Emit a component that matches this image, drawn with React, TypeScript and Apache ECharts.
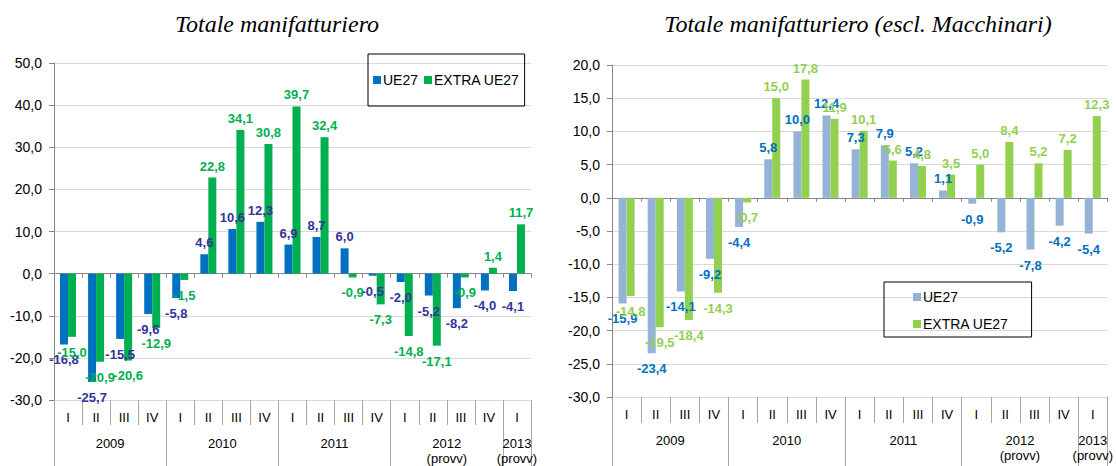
import React, { useEffect, useRef } from "react";
import * as echarts from "echarts";

const quarters = ["I", "II", "III", "IV", "I", "II", "III", "IV", "I", "II", "III", "IV", "I", "II", "III", "IV", "I"];
const years = ["2009", "2010", "2011", "2012\n(provv)", "2013\n(provv)"];
const quartersPerYear = [4, 4, 4, 4, 1];

const leftUE27 = [-16.8, -25.7, -15.5, -9.6, -5.8, 4.6, 10.6, 12.3, 6.9, 8.7, 6.0, -0.5, -2.0, -5.2, -8.2, -4.0, -4.1];
const leftExtra = [-15.0, -20.9, -20.6, -12.9, -1.5, 22.8, 34.1, 30.8, 39.7, 32.4, -0.9, -7.3, -14.8, -17.1, -0.9, 1.4, 11.7];
const rightUE27 = [-15.9, -23.4, -14.1, -9.2, -4.4, 5.8, 10.0, 12.4, 7.3, 7.9, 5.2, 1.1, -0.9, -5.2, -7.8, -4.2, -5.4];
const rightExtra = [-14.8, -19.5, -18.4, -14.3, -0.7, 15.0, 17.8, 11.9, 10.1, 5.6, 4.8, 3.5, 5.0, 8.4, 5.2, 7.2, 12.3];

const titles = ["Totale manifatturiero", "Totale manifatturiero (escl. Macchinari)"];
const seriesNames = ["UE27", "EXTRA UE27"];

const FONT = '"Liberation Sans", Arial, sans-serif';
const fmt = (v: number) => v.toFixed(1).replace(".", ",");

// year axis slots (half-quarter resolution)
const yearBoundaries: number[] = [0];
const yearCenters: number[] = [];
let cum = 0;
quartersPerYear.forEach((c) => {
  yearCenters.push(cum * 2 + c);
  cum += c;
  yearBoundaries.push(cum * 2);
});
const yearSlots = Array.from({ length: cum * 2 + 1 }, (_, i) => "s" + i);
const yearLabelAt: Record<number, string> = {};
yearCenters.forEach((c, i) => (yearLabelAt[c] = years[i]));

function App() {
  const ref = useRef<HTMLDivElement>(null);
  useEffect(() => {
    if (!ref.current) return;
    const chart = echarts.init(ref.current, null, { renderer: "svg" });

    const gridLine = "#d9d9d9";
    const axisCol = "#868686";
    const sepCol = "#a6a6a6";

    const makeX = (gridIndex: number, tickLen: number, yearTickLen: number) => [
      {
        type: "category",
        gridIndex,
        data: quarters.map((q, i) => q + "_" + i),
        position: "bottom",
        axisLine: { onZero: true, lineStyle: { color: axisCol } },
        axisTick: { show: true, interval: 0, length: 4, lineStyle: { color: axisCol } },
        axisLabel: { show: false },
      },
      {
        type: "category",
        gridIndex,
        data: quarters,
        position: "bottom",
        axisLine: { show: false, onZero: false },
        axisTick: { show: true, interval: 0, length: tickLen, lineStyle: { color: sepCol } },
        axisLabel: { interval: 0, margin: 11, fontSize: 13, color: "#000", fontFamily: FONT },
      },
      {
        type: "category",
        gridIndex,
        data: yearSlots,
        boundaryGap: false,
        position: "bottom",
        axisLine: { show: false, onZero: false },
        axisTick: {
          show: true,
          length: yearTickLen,
          interval: (i: number) => yearBoundaries.includes(i),
          lineStyle: { color: sepCol },
        },
        axisLabel: {
          interval: (i: number) => yearCenters.includes(i),
          formatter: (_v: string, i: number) => yearLabelAt[i] ?? "",
          margin: 36,
          fontSize: 13,
          lineHeight: 15,
          color: "#000",
          fontFamily: FONT,
        },
      },
    ];

    const makeY = (gridIndex: number, min: number, max: number, interval: number) => ({
      type: "value",
      gridIndex,
      min,
      max,
      interval,
      axisLine: { show: true, lineStyle: { color: axisCol } },
      axisTick: { show: true, length: 5, lineStyle: { color: axisCol } },
      splitLine: { show: true, lineStyle: { color: gridLine } },
      axisLabel: { formatter: (v: number) => fmt(v), margin: 12, fontSize: 14, color: "#000", fontFamily: FONT },
    });

    const makeBar = (name: string, vals: number[], color: string, labelColor: string, xAxisIndex: number, yAxisIndex: number) => ({
      type: "bar",
      name,
      xAxisIndex,
      yAxisIndex,
      barWidth: 8,
      barGap: "0%",
      itemStyle: { color },
      label: {
        show: true,
        formatter: (p: any) => fmt(p.value),
        color: labelColor,
        fontWeight: "bold",
        fontSize: 13,
        fontFamily: FONT,
      },
      data: vals.map((v) => ({
        value: v,
        label: { position: v >= 0 ? "top" : "bottom", distance: v >= 0 ? 5 : 9 },
      })),
    });

    const titleFont = 'italic 24px "Liberation Serif", "Times New Roman", serif';

    chart.setOption({
      animation: false,
      backgroundColor: "#fff",
      graphic: [
        {
          type: "text",
          x: 277,
          y: 24,
          style: { text: titles[0], font: titleFont, fill: "#000", align: "center", verticalAlign: "middle" },
        },
        {
          type: "text",
          x: 858,
          y: 24,
          style: { text: titles[1], font: titleFont, fill: "#000", align: "center", verticalAlign: "middle" },
        },
      ],
      legend: [
        {
          left: 368,
          top: 54,
          orient: "horizontal",
          borderColor: "#000",
          borderWidth: 1,
          padding: [19, 5, 19, 5],
          itemWidth: 8,
          itemHeight: 8,
          itemGap: 6,
          icon: "rect",
          textStyle: { fontSize: 14, color: "#000", fontFamily: FONT, padding: [0, 0, 0, -3] },
          data: [
            { name: seriesNames[0], itemStyle: { color: "#0070C0" } },
            { name: seriesNames[1], itemStyle: { color: "#00B050" } },
          ],
        },
        {
          left: 884,
          top: 282,
          orient: "vertical",
          borderColor: "#000",
          borderWidth: 1,
          padding: [8, 23, 6, 29],
          itemWidth: 8,
          itemHeight: 8,
          itemGap: 13,
          icon: "rect",
          textStyle: { fontSize: 14, color: "#000", fontFamily: FONT, padding: [0, 0, 0, -3] },
          data: [
            { name: seriesNames[0], itemStyle: { color: "#95B3D7" } },
            { name: seriesNames[1], itemStyle: { color: "#92D050" } },
          ],
        },
      ],
      grid: [
        { left: 54, top: 63, width: 477, height: 337 },
        { left: 612, top: 65, width: 497, height: 332 },
      ],
      xAxis: [...makeX(0, 25, 66), ...makeX(1, 26, 69)],
      yAxis: [makeY(0, -30, 50, 10), makeY(1, -30, 20, 5)],
      series: [
        makeBar(seriesNames[0], leftUE27, "#0070C0", "#333399", 0, 0),
        makeBar(seriesNames[1], leftExtra, "#00B050", "#00B050", 0, 0),
        makeBar(seriesNames[0], rightUE27, "#95B3D7", "#0070C0", 3, 1),
        makeBar(seriesNames[1], rightExtra, "#92D050", "#92D050", 3, 1),
      ],
    });
    return () => chart.dispose();
  }, []);
  return <div ref={ref} style={{ position: "fixed", left: 0, top: 0, width: 1116, height: 466 }} />;
}

export default App;
